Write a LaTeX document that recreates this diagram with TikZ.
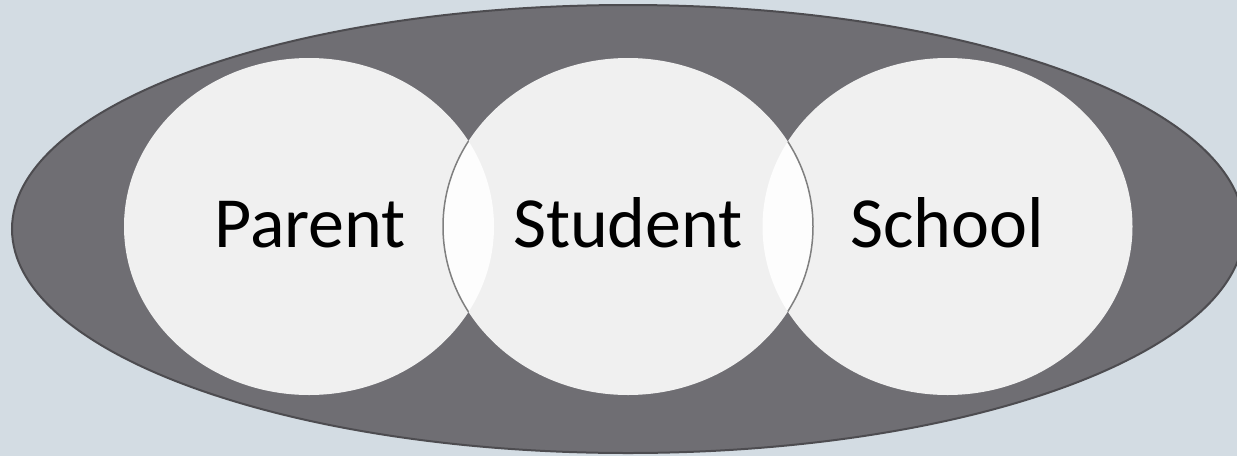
\documentclass[tikz,border=0pt]{standalone}
\usepackage{fontspec}
\setmainfont{Carlito}
\definecolor{bgc}{HTML}{D3DCE3}
\definecolor{ovalfill}{HTML}{6F6E73}
\definecolor{ovalline}{HTML}{4D4C50}
\definecolor{circfill}{HTML}{F0F0F0}
\definecolor{overlapfill}{HTML}{FDFDFD}
\definecolor{circline}{HTML}{7F7F7F}
\tikzset{
  lbl/.style={anchor=base, inner sep=0pt, font=\fontsize{72}{86}\selectfont, text=black},
  rad/.style={x radius=185pt, y radius=168.5pt}
}
\begin{document}
\begin{tikzpicture}[x=1pt,y=-1pt]
\fill[bgc] (0,0) rectangle (1237,456);
\useasboundingbox (0,0) rectangle (1237,456);
% outer oval
\begin{scope}
  \clip (0,0) rectangle (1237,456);
  \draw[fill=ovalfill, draw=ovalline, line width=2pt] (628,229) ellipse [x radius=616pt, y radius=224pt];
\end{scope}
% circles
\fill[circfill] (309,226.5) ellipse [rad];
\fill[circfill] (628,226.5) ellipse [rad];
\fill[circfill] (947.5,226.5) ellipse [rad];
% overlaps
\begin{scope}
  \clip (309,226.5) ellipse [rad];
  \fill[overlapfill] (628,226.5) ellipse [rad];
\end{scope}
\begin{scope}
  \clip (947.5,226.5) ellipse [rad];
  \fill[overlapfill] (628,226.5) ellipse [rad];
\end{scope}
% student outline inside overlaps
\begin{scope}
  \clip (309,226.5) ellipse [rad];
  \draw[circline, line width=1.5pt] (628,226.5) ellipse [rad];
\end{scope}
\begin{scope}
  \clip (947.5,226.5) ellipse [rad];
  \draw[circline, line width=1.5pt] (628,226.5) ellipse [rad];
\end{scope}
% labels
\node[lbl] (parent) at (310,247) {Parent};
\node[lbl] (student) at (628,247) {Student};
\node[lbl] (school) at (947,247) {School};
\end{tikzpicture}
\end{document}
